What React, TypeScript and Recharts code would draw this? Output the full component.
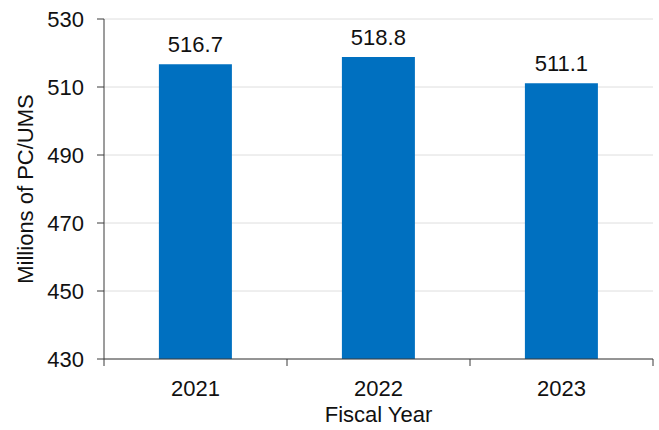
import { BarChart, Bar, XAxis, YAxis, CartesianGrid, LabelList } from "recharts";

const years = ["2021", "2022", "2023"];
const pcUms = [516.7, 518.8, 511.1];
const yTicks = [430, 450, 470, 490, 510, 530];

const FONT = '"Liberation Sans", Arial, Helvetica, sans-serif';
const FS = 22;
const TEXT = "#111";
const AXIS = "#3a3a3a";
const TICK_SIZE = 7;
const TICK_MARGIN = 14;

const data = years.map((year, i) => ({ year, value: pcUms[i] }));

// category label centred in the band, tick marks at the band edges
function YearTick(props: any) {
  const { x, y, payload, index, visibleTicksCount } = props;
  const half = payload?.offset ?? 91.5;
  const top = y - TICK_MARGIN - TICK_SIZE;
  const bottom = y - TICK_MARGIN;
  const last = index === visibleTicksCount - 1;
  return (
    <g>
      <line x1={x - half} x2={x - half} y1={top} y2={bottom} stroke={AXIS} />
      {last && <line x1={x + half} x2={x + half} y1={top} y2={bottom} stroke={AXIS} />}
      <text x={x} y={y} dy="0.71em" textAnchor="middle" fill={TEXT} fontSize={FS} fontFamily={FONT}>
        {payload.value}
      </text>
    </g>
  );
}

export default function App() {
  return (
    <div style={{ position: "absolute", left: 0, top: 0, background: "#fff" }}>
      <BarChart
        width={659}
        height={430}
        data={data}
        margin={{ top: 19, right: 6, left: 0, bottom: 0 }}
        barCategoryGap="30%"
      >
        <CartesianGrid vertical={false} stroke="#dedede" />
        <XAxis
          dataKey="year"
          height={71}
          axisLine={{ stroke: AXIS }}
          tickLine={false}
          tickSize={TICK_SIZE}
          tickMargin={TICK_MARGIN}
          tick={<YearTick />}
          interval={0}
          label={{
            value: "Fiscal Year",
            position: "insideBottom",
            offset: 8,
            fill: TEXT,
            fontSize: FS,
            fontFamily: FONT,
          }}
        />
        <YAxis
          width={104}
          domain={[430, 530]}
          ticks={yTicks}
          allowDataOverflow
          axisLine={{ stroke: AXIS }}
          tickLine={{ stroke: AXIS }}
          tickSize={7}
          tickMargin={13}
          tick={{ fill: TEXT, fontSize: FS, fontFamily: FONT }}
          label={{
            value: "Millions of PC/UMS",
            angle: -90,
            position: "center",
            dx: -27,
            fill: TEXT,
            fontSize: FS,
            fontFamily: FONT,
          }}
        />
        <Bar dataKey="value" fill="#0070C0" isAnimationActive={false}>
          <LabelList
            dataKey="value"
            position="top"
            offset={12}
            fill={TEXT}
            fontSize={FS}
            fontFamily={FONT}
            formatter={(v: any) => Number(v).toFixed(1)}
          />
        </Bar>
      </BarChart>
    </div>
  );
}
